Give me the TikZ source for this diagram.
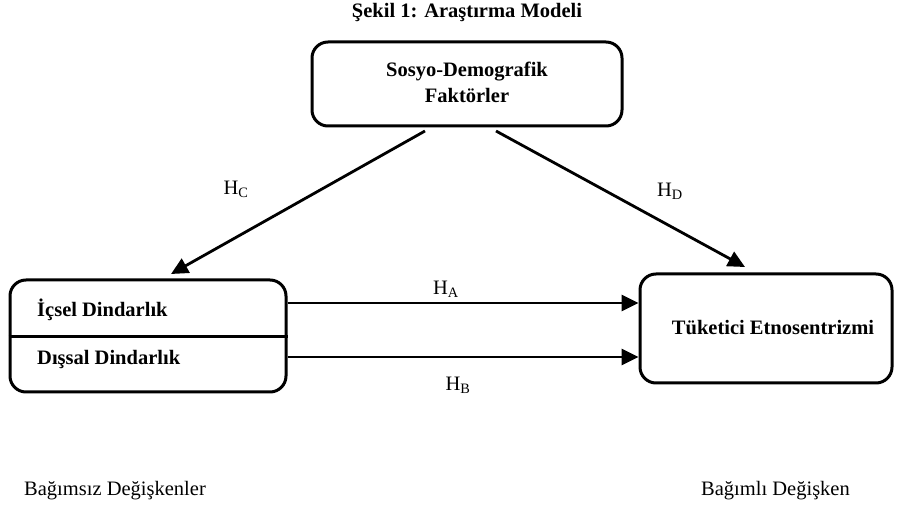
\documentclass[tikz,border=0pt]{standalone}
\usepackage{fontspec}
\setmainfont{Liberation Serif}
\usetikzlibrary{arrows.meta}
\begin{document}
\begin{tikzpicture}[x=1pt,y=-1pt,
  box/.style={draw,line width=3pt,rounded corners=16pt,inner sep=0pt},
  arr/.style={line width=2.8pt,-{Triangle[length=17pt,width=16pt]}},
  bt/.style={font=\fontsize{20.5}{26}\selectfont\bfseries,align=center,inner sep=0pt},
  rt/.style={font=\fontsize{20.5}{24}\selectfont,inner sep=0pt},
  hl/.style={font=\fontsize{20.5}{24}\selectfont,inner sep=0pt}]
\useasboundingbox (0,0) rectangle (897,510);
\node[bt] (title) at (467,13) {Şekil 1: Araştırma Modeli};
\node[box,minimum width=310pt,minimum height=84pt] (tbox) at (467,84) {};
\node[bt] (ttext) at (467,82) {Sosyo-Demografik\\Faktörler};
\node[box,minimum width=276pt,minimum height=112pt] (lbox) at (148,336) {};
\draw[line width=3pt] (lbox.west |- 0,337) -- (lbox.east |- 0,337);
\node[bt,anchor=west] (ic) at (37,310) {İçsel Dindarlık};
\node[bt,anchor=west] (dis) at (37,360) {Dışsal Dindarlık};
\node[box,minimum width=252pt,minimum height=109pt] (rbox) at (766,328.5) {};
\node[bt] (rtext) at (773,328) {Tüketici Etnosentrizmi};
\draw[arr] (lbox.east |- 0,303) -- (rbox.west |- 0,303);
\draw[arr] (lbox.east |- 0,357) -- (rbox.west |- 0,357);
\coordinate (cs) at (425,131);
\coordinate (ct) at (171,274);
\coordinate (ds) at (496,131);
\coordinate (dt) at (745,267);
\draw[arr] (cs) -- (ct);
\draw[arr] (ds) -- (dt);
\node[hl] (ha) at (446,289) {H\textsubscript{A}};
\node[hl] (hb) at (458,385) {H\textsubscript{B}};
\node[hl] (hc) at (236,189) {H\textsubscript{C}};
\node[hl] (hd) at (670,191) {H\textsubscript{D}};
\node[rt,anchor=west] (bm) at (24,491) {Bağımsız Değişkenler};
\node[rt,anchor=east] (bd) at (850,491) {Bağımlı Değişken};
\end{tikzpicture}
\end{document}
